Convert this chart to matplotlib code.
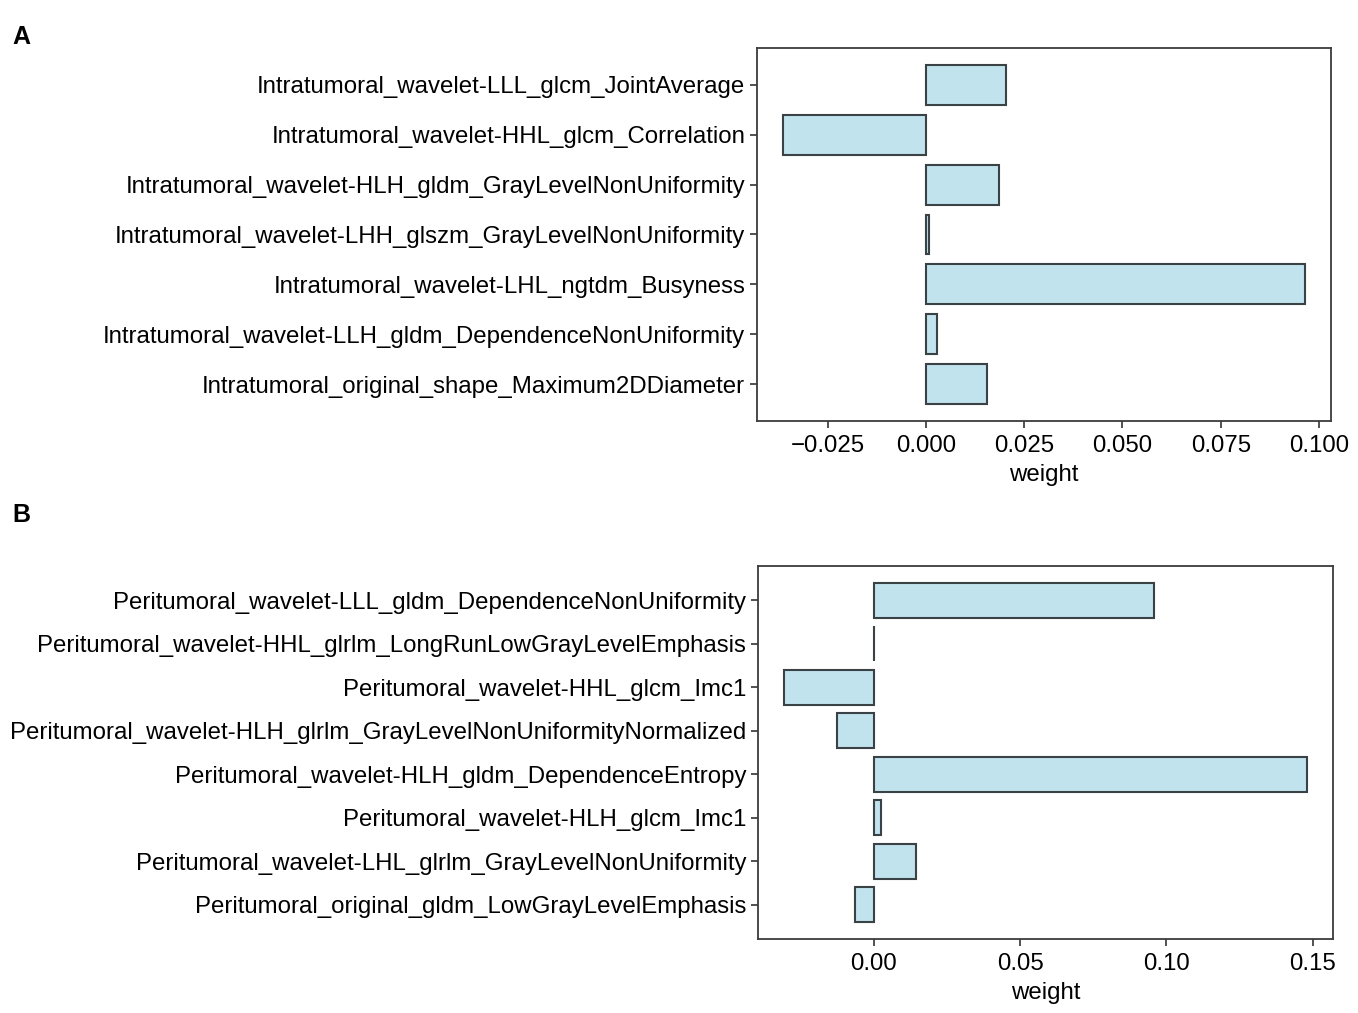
import numpy as np
import matplotlib.pyplot as plt

plt.rcParams['font.family'] = ['Liberation Sans', 'DejaVu Sans']

# panel A: intratumoral features
intra_features = [
    "Intratumoral_wavelet-LLL_glcm_JointAverage",
    "Intratumoral_wavelet-HHL_glcm_Correlation",
    "Intratumoral_wavelet-HLH_gldm_GrayLevelNonUniformity",
    "Intratumoral_wavelet-LHH_glszm_GrayLevelNonUniformity",
    "Intratumoral_wavelet-LHL_ngtdm_Busyness",
    "Intratumoral_wavelet-LLH_gldm_DependenceNonUniformity",
    "Intratumoral_original_shape_Maximum2DDiameter",
]
intra_weights = [0.0204, -0.0363, 0.0186, 0.0007, 0.0964, 0.0028, 0.0156]
intra_ticks = [-0.025, 0.0, 0.025, 0.05, 0.075, 0.1]
intra_ticklabels = ["\u22120.025", "0.000", "0.025", "0.050", "0.075", "0.100"]

# panel B: peritumoral features
peri_features = [
    "Peritumoral_wavelet-LLL_gldm_DependenceNonUniformity",
    "Peritumoral_wavelet-HHL_glrlm_LongRunLowGrayLevelEmphasis",
    "Peritumoral_wavelet-HHL_glcm_Imc1",
    "Peritumoral_wavelet-HLH_glrlm_GrayLevelNonUniformityNormalized",
    "Peritumoral_wavelet-HLH_gldm_DependenceEntropy",
    "Peritumoral_wavelet-HLH_glcm_Imc1",
    "Peritumoral_wavelet-LHL_glrlm_GrayLevelNonUniformity",
    "Peritumoral_original_gldm_LowGrayLevelEmphasis",
]
peri_weights = [0.0957, 0.0001, -0.0307, -0.0125, 0.1480, 0.0023, 0.0144, -0.0066]
peri_ticks = [0.0, 0.05, 0.10, 0.15]
peri_ticklabels = ["0.00", "0.05", "0.10", "0.15"]

bar_color = '#c1e3ee'
edge_color = '#3a4245'
fs = 17.3

W, H = 1358, 1013
fig = plt.figure(figsize=(W / 100, H / 100), dpi=100)


def draw_panel(rect, features, weights, ticks, ticklabels, letter, letter_xy):
    ax = fig.add_axes(rect)
    y = np.arange(len(features))
    ax.barh(y, weights, height=0.8, color=bar_color, edgecolor=edge_color, linewidth=1.5)
    ax.set_yticks(y)
    ax.set_yticklabels(features, fontsize=fs)
    ax.invert_yaxis()
    ax.set_xticks(ticks)
    ax.set_xticklabels(ticklabels)
    ax.set_xlabel("weight", fontsize=fs, labelpad=5)
    ax.tick_params(axis='x', labelsize=fs, length=5, width=1.2, color='#333333', pad=5)
    ax.tick_params(axis='y', length=5, width=1.2, color='#333333')
    for s in ax.spines.values():
        s.set_color('#3c3c3c')
        s.set_linewidth(1.3)
    fig.text(letter_xy[0] / W, 1 - letter_xy[1] / H, letter, fontsize=18,
             fontweight='bold', ha='left', va='center')
    return ax


axA = draw_panel([757 / W, 1 - 421 / H, (1331 - 757) / W, 373 / H],
                 intra_features, intra_weights, intra_ticks, intra_ticklabels,
                 "A", (12, 37))
axB = draw_panel([758 / W, 1 - 939 / H, (1333 - 758) / W, 373 / H],
                 peri_features, peri_weights, peri_ticks, peri_ticklabels,
                 "B", (12, 515))

fig.savefig("out.png", dpi=100)
